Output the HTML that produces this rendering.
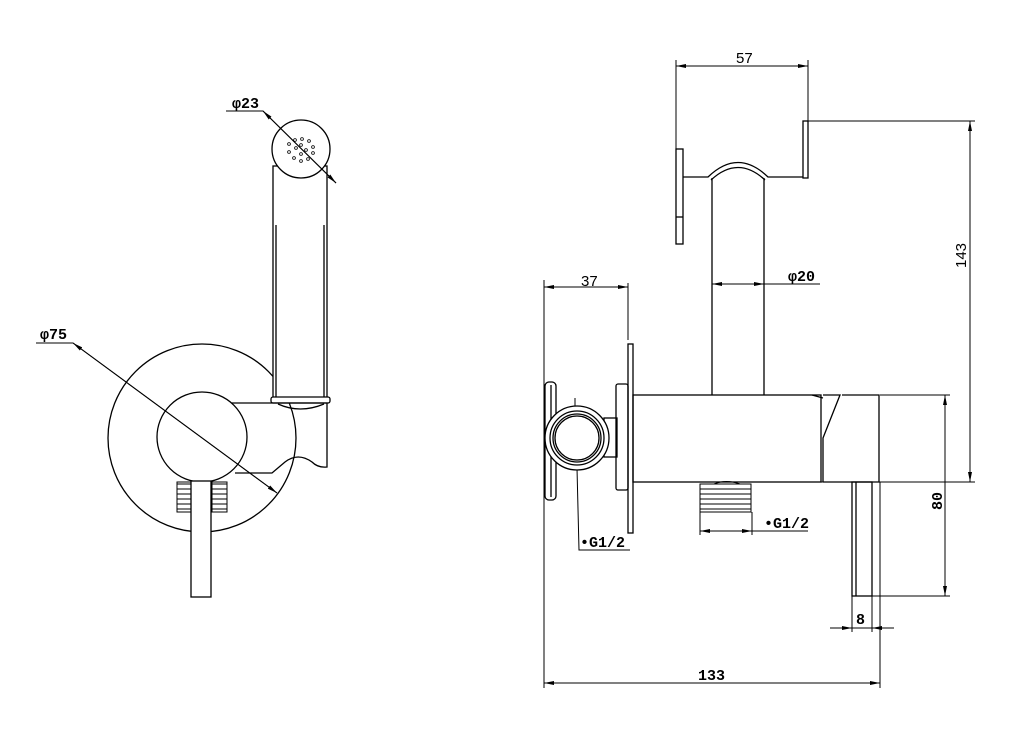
<!DOCTYPE html>
<html><head><meta charset="utf-8"><style>html,body{margin:0;padding:0;background:#fff}</style></head>
<body>
<svg width="1030" height="748" viewBox="0 0 1030 748" xmlns="http://www.w3.org/2000/svg" font-family="Liberation Mono, DejaVu Sans Mono, monospace" font-weight="bold">
<defs>
<marker id="a" viewBox="0 0 10 4" refX="10" refY="2" markerWidth="10" markerHeight="4" orient="auto-start-reverse" markerUnits="userSpaceOnUse"><path d="M0,0L10,2L0,4z" fill="#000"/></marker>
</defs>
<g fill="none" stroke="#000" stroke-width="1.3">
<!-- LEFT VIEW -->
<circle cx="202" cy="438" r="94"/>
<rect x="273" y="166" width="54" height="232" fill="#fff"/>
<path d="M276 225V398M324 225V398"/>
<circle cx="301" cy="149" r="29" fill="#fff"/>
<rect x="271" y="397" width="59" height="6" rx="2" fill="#fff"/>
<path d="M278 404Q300 414 324 404"/>
<path d="M230 403H327V467Q318 468 312 462Q298 452 285 462L272 473H235"/>
<circle cx="202" cy="437" r="45" fill="#fff"/>
<g stroke-width="1">
<path d="M177 484h15M177 489h15M177 494h15M177 499h15M177 504h15M177 509h15M212 484h15M212 489h15M212 494h15M212 499h15M212 504h15M212 509h15"/>
<rect x="177" y="482" width="15" height="30"/><rect x="212" y="482" width="15" height="30"/>
</g>
<rect x="191" y="481" width="20" height="116" fill="#fff"/>
<g stroke-width="0.8">
<circle cx="289" cy="144" r="1.4"/><circle cx="295" cy="140" r="1.4"/><circle cx="302" cy="139" r="1.4"/><circle cx="309" cy="141" r="1.4"/><circle cx="313" cy="147" r="1.4"/><circle cx="313" cy="153" r="1.4"/><circle cx="308" cy="159" r="1.4"/><circle cx="301" cy="161" r="1.4"/><circle cx="294" cy="158" r="1.4"/><circle cx="289" cy="152" r="1.4"/><circle cx="296" cy="148" r="1.4"/><circle cx="301" cy="145" r="1.4"/><circle cx="306" cy="150" r="1.4"/><circle cx="301" cy="154" r="1.4"/>
</g>
<g stroke-width="1">
<path d="M226 111H263L336 183" marker-end="url(#a)"/>
<path d="M263 111L336 183" marker-start="url(#a)"/>
<path d="M36 343H73L277 493" marker-end="url(#a)"/>
<path d="M73 343L277 493" marker-start="url(#a)"/>
</g>
<!-- RIGHT VIEW -->
<g stroke-width="1">
<path d="M676 60V177M808 60V121"/>
<path d="M676 66H808" marker-start="url(#a)" marker-end="url(#a)"/>
<path d="M808 121H975"/>
<path d="M970 121V482" marker-start="url(#a)" marker-end="url(#a)"/>
<path d="M712 284H764" marker-start="url(#a)" marker-end="url(#a)"/>
<path d="M764 284H820"/>
<path d="M544 280V688M628 283V340"/>
<path d="M544 287H628" marker-start="url(#a)" marker-end="url(#a)"/>
<path d="M880 395H950M821 482H975"/>
<path d="M945 395V596" marker-start="url(#a)" marker-end="url(#a)"/>
<path d="M872 596H950"/>
<path d="M880 482V688M852 596V632M872 596V632"/>
<path d="M830 628H852" marker-end="url(#a)"/>
<path d="M894 628H872" marker-end="url(#a)"/>
<path d="M852 628H872"/>
<path d="M544 683H880" marker-start="url(#a)" marker-end="url(#a)"/>
<path d="M700 512V535M752 512V535"/>
<path d="M700 531H752" marker-start="url(#a)" marker-end="url(#a)"/>
<path d="M752 531H808"/>
<path d="M575 398V438" marker-end="url(#a)"/>
<path d="M577 468L575 437" marker-start="url(#a)"/>
<path d="M577 468L579 550H630"/>
</g>
<rect x="676" y="149" width="7" height="95"/><path d="M676 217H683"/>
<rect x="803" y="121" width="5" height="57"/>
<path d="M683 177H708Q738 148 768 177H803"/>
<path d="M711 180Q738 155 765 180"/>
<path d="M712 178V395M764 178V395"/>
<rect x="628" y="344" width="5" height="189"/>
<rect x="616" y="384" width="12" height="106" rx="2"/>
<rect x="633" y="395" width="188" height="87"/>
<path d="M823 395H840L823 438V482M842 395H879V482H823"/>
<path d="M812 395L823 398"/>
<rect x="852" y="482" width="20" height="114"/>
<path d="M856 482V596"/>
<rect x="545" y="382" width="11" height="118" rx="4"/>
<path d="M551 385V497"/>
<rect x="604" y="418" width="13" height="39"/>
<circle cx="577" cy="438" r="32" fill="#fff"/>
<circle cx="577" cy="438" r="27"/>
<circle cx="577" cy="438" r="24"/>
<circle cx="577" cy="438" r="22"/>
<g stroke-width="1">
<rect x="700" y="484" width="51" height="28"/>
<path d="M700 489h51M700 494h51M700 499h51M700 504h51M700 509h51"/>
<path d="M714 484Q726 479 740 484"/>
</g>
</g>
<g font-size="15" fill="#000">
<text x="232" y="108">φ23</text>
<text x="40" y="339">φ75</text>
<text x="736" y="63" font-weight="normal" font-family="Liberation Sans, sans-serif">57</text>
<text x="581" y="286" font-weight="normal" font-family="Liberation Sans, sans-serif">37</text>
<text x="788" y="281">φ20</text>
<text x="580" y="547">•G1/2</text>
<text x="764" y="528">•G1/2</text>
<text x="856" y="624">8</text>
<text x="698" y="680">133</text>
<text transform="translate(966,268) rotate(-90)" font-weight="normal" font-family="Liberation Sans, sans-serif">143</text>
<text transform="translate(942,510) rotate(-90)">80</text>
</g>
</svg>
</body></html>
